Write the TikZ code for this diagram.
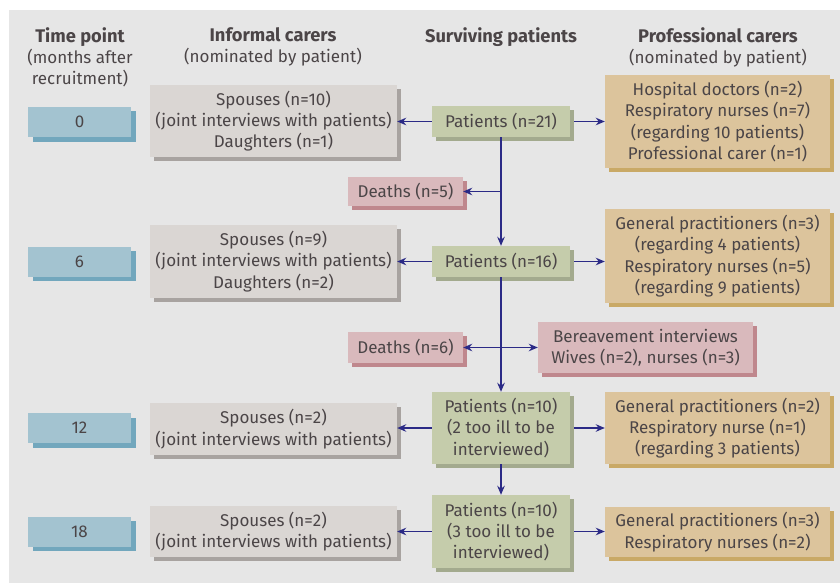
\documentclass[tikz,border=0pt]{standalone}
\usepackage{fontspec}
\setmainfont{Fira Sans}
\usetikzlibrary{arrows.meta,shadows}
\definecolor{bg}{HTML}{E6E6E6}
\definecolor{txt}{HTML}{4B4547}
\definecolor{tfill}{HTML}{A3C3D0}
\definecolor{tshad}{HTML}{72A7BD}
\definecolor{ifill}{HTML}{DAD6D3}
\definecolor{ishad}{HTML}{A8A3A0}
\definecolor{pfill}{HTML}{C5CCAB}
\definecolor{pshad}{HTML}{A3AA8E}
\definecolor{rfill}{HTML}{DCC49C}
\definecolor{rshad}{HTML}{C9A966}
\definecolor{dfill}{HTML}{D9B9BC}
\definecolor{dshad}{HTML}{BF878D}
\definecolor{arrc}{HTML}{2B2A86}
\tikzset{
  x=1pt, y=-1pt,
  basebox/.style={inner sep=0pt, align=center, text=txt,
    font=\fontsize{17}{21.3}\selectfont, anchor=center},
  tbox/.style={basebox, fill=tfill, drop shadow={shadow xshift=4.5pt, shadow yshift=-4.5pt, fill=tshad, opacity=1}},
  ibox/.style={basebox, fill=ifill, drop shadow={shadow xshift=4pt, shadow yshift=-4pt, fill=ishad, opacity=1}},
  pbox/.style={basebox, fill=pfill, drop shadow={shadow xshift=4pt, shadow yshift=-4pt, fill=pshad, opacity=1}},
  rbox/.style={basebox, fill=rfill, drop shadow={shadow xshift=4pt, shadow yshift=-4pt, fill=rshad, opacity=1}},
  dbox/.style={basebox, fill=dfill, drop shadow={shadow xshift=4pt, shadow yshift=-4pt, fill=dshad, opacity=1}},
  head/.style={align=center, text=txt, font=\fontsize{17}{21.3}\selectfont, anchor=north, inner sep=0pt},
  arr/.style={draw=arrc, line width=1.7pt, -{Stealth[length=9pt,width=7.5pt]}},
}
\begin{document}
\begin{tikzpicture}
\useasboundingbox (0,0) rectangle (840,583);
\fill[bg] (9,10) rectangle (840,583);
% headings
\node[head] (h1) at (80,27) {{\fontsize{18.3}{21.3}\selectfont\bfseries Time point}\\(months after\\recruitment)};
\node[head] (h2) at (273,27) {{\fontsize{18.3}{21.3}\selectfont\bfseries Informal carers}\\(nominated by patient)};
\node[head] (h3) at (501,27) {{\fontsize{18.3}{21.3}\selectfont\bfseries Surviving patients}};
\node[head] (h4) at (718,27) {{\fontsize{18.3}{21.3}\selectfont\bfseries Professional carers}\\(nominated by patient)};
% time boxes
\node[tbox, minimum width=103pt, minimum height=30pt] (t0) at (79.5,122) {0};
\node[tbox, minimum width=103pt, minimum height=30pt] (t6) at (79.5,261.5) {6};
\node[tbox, minimum width=103pt, minimum height=30pt] (t12) at (79.5,428) {12};
\node[tbox, minimum width=103pt, minimum height=30pt] (t18) at (79.5,531.5) {18};
% informal
\node[ibox, minimum width=247pt, minimum height=72pt] (i0) at (273.5,121) {Spouses (n=10)\\(joint interviews with patients)\\Daughters (n=1)};
\node[ibox, minimum width=247pt, minimum height=73pt] (i6) at (273.5,261.5) {Spouses (n=9)\\(joint interviews with patients)\\Daughters (n=2)};
\node[ibox, minimum width=247pt, minimum height=52pt] (i12) at (273.5,429) {Spouses (n=2)\\(joint interviews with patients)};
\node[ibox, minimum width=247pt, minimum height=51pt] (i18) at (273.5,531.5) {Spouses (n=2)\\(joint interviews with patients)};
% patients
\node[pbox, minimum width=138pt, minimum height=31pt] (p21) at (501,121.5) {Patients (n=21)};
\node[pbox, minimum width=138pt, minimum height=31pt] (p16) at (501,261.5) {Patients (n=16)};
\node[pbox, minimum width=138pt, minimum height=72pt] (p10a) at (501,428) {Patients (n=10)\\(2 too ill to be\\interviewed)};
\node[pbox, minimum width=138pt, minimum height=73pt] (p10b) at (501,531.5) {Patients (n=10)\\(3 too ill to be\\interviewed)};
% deaths
\node[dbox, minimum width=115pt, minimum height=29pt] (d5) at (405.5,191.5) {Deaths (n=5)};
\node[dbox, minimum width=115pt, minimum height=31pt] (d6) at (405.5,347.5) {Deaths (n=6)};
\node[dbox, minimum width=215pt, minimum height=51pt] (ber) at (645.5,347.5) {Bereavement interviews\\Wives (n=2), nurses (n=3)};
% professional
\node[rbox, minimum width=225pt, minimum height=93pt] (r0) at (717.5,121.5) {Hospital doctors (n=2)\\Respiratory nurses (n=7)\\(regarding 10 patients)\\Professional carer (n=1)};
\node[rbox, minimum width=225pt, minimum height=94pt] (r6) at (717.5,256) {General practitioners (n=3)\\(regarding 4 patients)\\Respiratory nurses (n=5)\\(regarding 9 patients)};
\node[rbox, minimum width=225pt, minimum height=72pt] (r12) at (717.5,428) {General practitioners (n=2)\\Respiratory nurse (n=1)\\(regarding 3 patients)};
\node[rbox, minimum width=225pt, minimum height=50pt] (r18) at (717.5,532) {General practitioners (n=3)\\Respiratory nurses (n=2)};
% connectors
\coordinate (j1) at (p21.south |- d5);
\coordinate (j2) at (p16.south |- d6);
\draw[arr] (p21.south) -- (p16.north);
\draw[arr] (j1) -- (d5.east);
\draw[arr] (p16.south) -- (p10a.north);
\draw[arr] (j2) -- (d6.east);
\draw[arr] (j2) -- (ber.west);
\draw[arr] (p10a.south) -- (p10b.north);
\draw[arr] (p21.west) -- (p21.west -| i0.east);
\draw[arr] (p16.west) -- (p16.west -| i6.east);
\draw[arr] (p10a.west) -- (p10a.west -| i12.east);
\draw[arr] (p10b.west) -- (p10b.west -| i18.east);
\draw[arr] ([xshift=4pt]p21.east) -- (p21.east -| r0.west);
\draw[arr] ([xshift=4pt]p16.east) -- (p16.east -| r6.west);
\draw[arr] ([xshift=4pt]p10a.east) -- (p10a.east -| r12.west);
\draw[arr] ([xshift=4pt]p10b.east) -- (p10b.east -| r18.west);
\end{tikzpicture}
\end{document}
